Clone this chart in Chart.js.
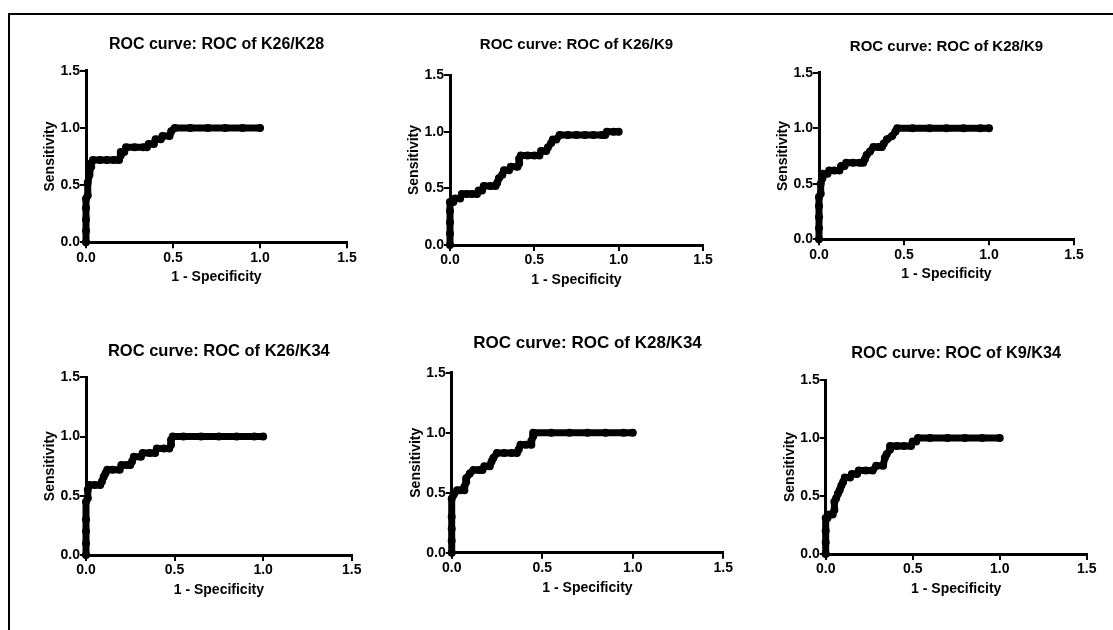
<!DOCTYPE html>
<html><head><meta charset="utf-8">
<script src="https://cdn.jsdelivr.net/npm/chart.js@4.4.0/dist/chart.umd.min.js"></script>
<style>
html,body{margin:0;padding:0;background:#fff;}
#page{position:relative;width:1113px;height:630px;overflow:hidden;background:#fff;}
#frameTop{position:absolute;left:8px;top:13px;width:1105px;height:2px;background:#000;}
#frameLeft{position:absolute;left:8px;top:13px;width:2px;height:617px;background:#000;}
canvas{position:absolute;}
</style></head><body>
<div id="page"><div id="frameTop"></div><div id="frameLeft"></div></div>
<script>
// ---- data ----
const chartTitles = [
  'ROC curve: ROC of K26/K28', 'ROC curve: ROC of K26/K9', 'ROC curve: ROC of K28/K9',
  'ROC curve: ROC of K26/K34', 'ROC curve: ROC of K28/K34', 'ROC curve: ROC of K9/K34'
];
const xAxisTitle = '1 - Specificity';
const yAxisTitle = 'Sensitivity';
const tickValues = [0, 0.5, 1.0, 1.5];
const tickLabels = ['0.0', '0.5', '1.0', '1.5'];

const k26k28_fpr = [0,0,0,0,0,0.01,0.01,0.02,0.02,0.03,0.03,0.04,0.08,0.12,0.16,0.19,0.20,0.20,0.22,0.23,0.28,0.33,0.35,0.36,0.39,0.40,0.43,0.44,0.48,0.49,0.51,0.60,0.70,0.80,0.90,1.00];
const k26k28_tpr = [0,0.10,0.20,0.30,0.38,0.41,0.52,0.59,0.62,0.66,0.69,0.72,0.72,0.72,0.72,0.72,0.76,0.79,0.79,0.83,0.83,0.83,0.83,0.86,0.86,0.90,0.90,0.93,0.93,0.97,1.00,1,1,1,1,1];

const k26k9_fpr = [0,0,0,0,0,0.02,0.03,0.06,0.07,0.10,0.13,0.16,0.17,0.19,0.20,0.24,0.27,0.28,0.29,0.31,0.32,0.35,0.36,0.40,0.41,0.41,0.42,0.46,0.50,0.53,0.54,0.57,0.58,0.60,0.61,0.63,0.65,0.70,0.75,0.80,0.85,0.90,0.92,0.93,0.97,1.00];
const k26k9_tpr = [0,0.10,0.20,0.30,0.38,0.38,0.41,0.41,0.45,0.45,0.45,0.45,0.48,0.48,0.52,0.52,0.52,0.55,0.59,0.62,0.66,0.66,0.69,0.69,0.72,0.76,0.79,0.79,0.79,0.79,0.83,0.83,0.86,0.90,0.93,0.93,0.97,0.97,0.97,0.97,0.97,0.97,0.97,1.00,1.00,1.00];

const k28k9_fpr = [0,0,0,0,0,0.01,0.01,0.02,0.02,0.05,0.06,0.09,0.12,0.13,0.15,0.16,0.20,0.24,0.26,0.27,0.28,0.30,0.32,0.35,0.37,0.38,0.40,0.43,0.45,0.46,0.55,0.65,0.75,0.85,0.95,1.00];
const k28k9_tpr = [0,0.10,0.20,0.30,0.38,0.41,0.50,0.55,0.59,0.59,0.62,0.62,0.62,0.66,0.66,0.69,0.69,0.69,0.69,0.72,0.76,0.79,0.83,0.83,0.83,0.86,0.90,0.93,0.97,1.00,1,1,1,1,1,1];

const k26k34_fpr = [0,0,0,0,0,0.01,0.01,0.02,0.05,0.08,0.09,0.10,0.11,0.12,0.15,0.19,0.20,0.23,0.25,0.26,0.27,0.31,0.32,0.36,0.39,0.40,0.44,0.47,0.48,0.48,0.49,0.55,0.65,0.75,0.85,0.95,1.00];
const k26k34_tpr = [0,0.10,0.20,0.30,0.45,0.48,0.55,0.59,0.59,0.59,0.62,0.66,0.69,0.72,0.72,0.72,0.76,0.76,0.76,0.79,0.83,0.83,0.86,0.86,0.86,0.90,0.90,0.90,0.93,0.97,1.00,1,1,1,1,1,1];

const k28k34_fpr = [0,0,0,0,0,0.01,0.03,0.05,0.07,0.07,0.08,0.08,0.10,0.12,0.15,0.17,0.18,0.21,0.22,0.23,0.25,0.29,0.33,0.36,0.37,0.38,0.41,0.44,0.44,0.45,0.45,0.55,0.65,0.75,0.85,0.95,1.00];
const k28k34_tpr = [0,0.10,0.20,0.30,0.45,0.48,0.52,0.52,0.52,0.55,0.59,0.62,0.66,0.69,0.69,0.69,0.72,0.72,0.76,0.79,0.83,0.83,0.83,0.83,0.86,0.90,0.90,0.90,0.93,0.97,1.00,1,1,1,1,1,1];

const k9k34_fpr = [0,0,0,0,0.01,0.02,0.04,0.05,0.05,0.06,0.07,0.08,0.09,0.10,0.11,0.14,0.15,0.18,0.19,0.23,0.27,0.29,0.33,0.34,0.35,0.37,0.37,0.41,0.45,0.49,0.50,0.52,0.53,0.60,0.70,0.80,0.90,1.00];
const k9k34_tpr = [0,0.10,0.20,0.31,0.31,0.34,0.34,0.38,0.45,0.48,0.52,0.55,0.59,0.62,0.66,0.66,0.69,0.69,0.72,0.72,0.72,0.76,0.76,0.83,0.86,0.90,0.93,0.93,0.93,0.93,0.97,0.97,1.00,1,1,1,1,1];

const seriesFpr = [k26k28_fpr, k26k9_fpr, k28k9_fpr, k26k34_fpr, k28k34_fpr, k9k34_fpr];
const seriesTpr = [k26k28_tpr, k26k9_tpr, k28k9_tpr, k26k34_tpr, k28k34_tpr, k9k34_tpr];

// ---- layout (plot area boxes on the page, in px) ----
const boxes = [
  {L:86,    R:347,    T:70.7,  B:242.3, titleY:45,    titleSize:16},
  {L:450,   R:703,    T:75,    B:245,   titleY:45,    titleSize:15},
  {L:819,   R:1074,   T:72.7,  B:239.3, titleY:46.7,  titleSize:15},
  {L:86,    R:351.7,  T:377.3, B:555,   titleY:351.7, titleSize:16.5},
  {L:451.7, R:723.3,  T:372.7, B:552.7, titleY:343.3, titleSize:17},
  {L:825.7, R:1086.7, T:380,   B:554,   titleY:353.3, titleSize:16.3}
];

const FONT = "'Liberation Sans', Arial, Helvetica, sans-serif";
Chart.defaults.font.family = FONT;
Chart.defaults.color = '#000';

const page = document.getElementById('page');
const axisTitleSize = 14, axisLH = axisTitleSize * 1.2;
const tickLen = 6;

boxes.forEach((b, i) => {
  const cLeft = Math.floor(b.L) - 80;
  const cTop = Math.floor(b.T) - 55;
  const cW = Math.ceil(b.R) + 25 - cLeft;
  const cH = Math.ceil(b.B) + 50 - cTop;
  const yW = b.L - cLeft;
  const titleBlock = b.T - cTop;
  const xH = cH - (b.B - cTop);
  const rightPad = cLeft + cW - b.R;
  const tLH = b.titleSize * 1.2;
  const tPadTop = b.titleY - cTop - tLH / 2;
  const tPadBottom = titleBlock - tLH - tPadTop;
  const yTitlePad = yW - 36 - axisLH / 2;
  const xTitlePad = xH - 35 - axisLH / 2;

  const cv = document.createElement('canvas');
  cv.width = cW; cv.height = cH;
  cv.style.left = cLeft + 'px'; cv.style.top = cTop + 'px';
  cv.style.width = cW + 'px'; cv.style.height = cH + 'px';
  page.appendChild(cv);

  const pts = seriesFpr[i].map((x, k) => ({x: x, y: seriesTpr[i][k]}));

  const axisCommon = {
    type: 'linear', min: 0, max: 1.5,
    afterBuildTicks: s => { s.ticks = tickValues.map(v => ({value: v})); },
    ticks: {
      callback: (v, idx) => tickLabels[idx],
      font: {size: 14, weight: 'bold', family: FONT}, color: '#000'
    },
    grid: {drawOnChartArea: false, drawTicks: true, tickLength: tickLen, color: '#000', lineWidth: 2},
    border: {display: true, color: '#000', width: 3}
  };

  new Chart(cv, {
    type: 'scatter',
    data: {datasets: [{
      data: pts, showLine: true, clip: false,
      borderColor: '#000', borderWidth: 7, borderJoinStyle: 'round', borderCapStyle: 'round',
      pointRadius: 4, pointBackgroundColor: '#000', pointBorderColor: '#000', pointBorderWidth: 0,
      tension: 0
    }]},
    options: {
      responsive: false, animation: false, devicePixelRatio: 1,
      layout: {padding: {left: 0, top: 0, bottom: 0, right: rightPad}},
      plugins: {
        legend: {display: false}, tooltip: {enabled: false},
        title: {display: true, text: chartTitles[i], fullSize: false, color: '#000',
          font: {size: b.titleSize, weight: 'bold', family: FONT, lineHeight: 1.2},
          padding: {top: tPadTop, bottom: tPadBottom}}
      },
      scales: {
        x: Object.assign({}, axisCommon, {
          position: 'bottom',
          afterFit: s => { s.height = xH; },
          ticks: Object.assign({}, axisCommon.ticks, {padding: 1, maxRotation: 0}),
          title: {display: true, text: xAxisTitle, color: '#000',
            font: {size: axisTitleSize, weight: 'bold', family: FONT, lineHeight: 1.2},
            padding: {top: 0, bottom: xTitlePad}}
        }),
        y: Object.assign({}, axisCommon, {
          position: 'left',
          afterFit: s => { s.width = yW; },
          ticks: Object.assign({}, axisCommon.ticks, {padding: 0}),
          title: {display: true, text: yAxisTitle, color: '#000',
            font: {size: axisTitleSize, weight: 'bold', family: FONT, lineHeight: 1.2},
            padding: {top: yTitlePad, bottom: 0}}
        })
      }
    }
  });
});
</script>
</body></html>
